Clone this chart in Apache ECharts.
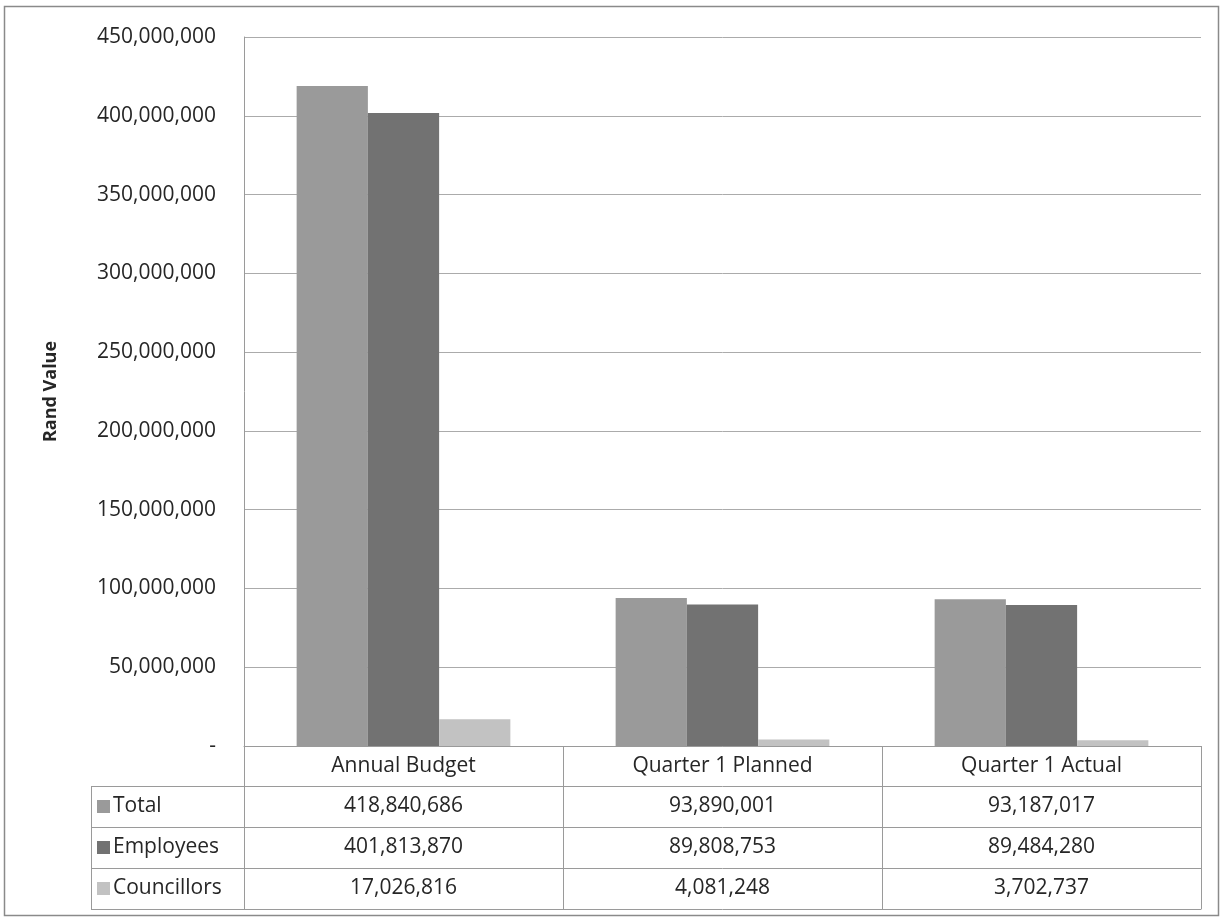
<!DOCTYPE html>
<html>
<head>
<meta charset="utf-8">
<style>
  html, body { margin: 0; padding: 0; background: #fff; }
  #chart { width: 1223px; height: 920px; }
</style>
<script src="https://cdn.jsdelivr.net/npm/echarts@6/dist/echarts.min.js"></script>
</head>
<body>
<div id="chart"></div>
<script>
const categories = ['Annual Budget', 'Quarter 1 Planned', 'Quarter 1 Actual']
const seriesNames = ['Total', 'Employees', 'Councillors']
const totalValues = [418840686, 93890001, 93187017]
const employeeValues = [401813870, 89808753, 89484280]
const councillorValues = [17026816, 4081248, 3702737]
const colors = ['#9a9a9a', '#727272', '#c2c2c2']

const fmt = v => v.toLocaleString('en-US')
const font = 'Open Sans'
const textColor = '#262626'
const lineColor = '#9a9a9a'
const fontSize = 21

// plot + table geometry
const gridLeft = 244
const gridRight = 1223 - 1201
const gridTop = 37
const zeroY = 746
const headerH = 40
const rowH = 41
const legendLeft = 91

const rows = [totalValues, employeeValues, councillorValues]

const chart = echarts.init(document.getElementById('chart'))

// one x axis per table row, stacked below the plot with offset
const rowAxes = rows.map((vals, i) => ({
  type: 'category',
  position: 'bottom',
  offset: headerH + i * rowH,
  data: vals.map(fmt),
  axisLine: { show: true, lineStyle: { color: lineColor } },
  axisTick: { show: true, interval: 0, length: rowH, lineStyle: { color: lineColor } },
  axisLabel: { interval: 0, margin: rowH / 2, verticalAlign: 'middle', color: textColor, fontFamily: font, fontSize: fontSize },
  splitLine: { show: false }
}))

let option = {
  backgroundColor: '#fff',
  animation: false,
  grid: {
    left: gridLeft,
    right: gridRight,
    top: gridTop,
    bottom: 920 - zeroY,
    show: false
  },
  legend: {
    orient: 'vertical',
    left: legendLeft + 6,
    top: zeroY + headerH + rowH / 2 - 13,
    icon: 'rect',
    itemWidth: 13,
    itemHeight: 13,
    itemGap: rowH - 26,
    padding: 0,
    data: seriesNames,
    textStyle: { color: textColor, fontFamily: font, fontSize: fontSize, lineHeight: 21, padding: [5, 0, 0, -2] },
    selectedMode: false
  },
  xAxis: [
    {
      type: 'category',
      position: 'bottom',
      data: categories,
      axisLine: { show: true, lineStyle: { color: lineColor } },
      axisTick: { show: true, interval: 0, length: headerH, lineStyle: { color: lineColor } },
      axisLabel: { interval: 0, margin: headerH / 2, verticalAlign: 'middle', color: textColor, fontFamily: font, fontSize: fontSize }
    },
    ...rowAxes,
    {
      type: 'category',
      position: 'bottom',
      offset: headerH + rows.length * rowH,
      data: categories,
      axisLine: { show: true, lineStyle: { color: lineColor } },
      axisTick: { show: false },
      axisLabel: { show: false }
    }
  ],
  yAxis: {
    type: 'value',
    min: 0,
    max: 450000000,
    interval: 50000000,
    name: 'Rand Value',
    nameLocation: 'middle',
    nameGap: 184,
    nameTextStyle: { color: textColor, fontFamily: font, fontSize: 18, fontWeight: 'bold' },
    axisLine: { show: true, lineStyle: { color: lineColor } },
    axisTick: { show: false },
    axisLabel: {
      margin: 28,
      color: textColor,
      fontFamily: font,
      fontSize: fontSize,
      formatter: v => v === 0 ? '-' : fmt(v)
    },
    splitLine: { lineStyle: { color: '#ababab', width: 1 } }
  },
  series: [totalValues, employeeValues, councillorValues].map((vals, i) => ({
    name: seriesNames[i],
    type: 'bar',
    xAxisIndex: 0,
    data: vals,
    barGap: '0%',
    barCategoryGap: '33%',
    itemStyle: { color: colors[i] }
  })),
  graphic: [
    // outer frame
    { type: 'rect', shape: { x: 4.5, y: 6.5, width: 1214, height: 909 }, style: { fill: null, stroke: '#8a8a8a', lineWidth: 1.5 }, silent: true },
    // legend column lines of the data table
    ...[0, 1, 2, 3].map(i => ({
      type: 'line',
      shape: { x1: legendLeft, y1: zeroY + headerH + i * rowH + 0.5, x2: gridLeft, y2: zeroY + headerH + i * rowH + 0.5 },
      style: { stroke: lineColor, lineWidth: 1 }, silent: true
    })),
    {
      type: 'line',
      shape: { x1: legendLeft + 0.5, y1: zeroY + headerH, x2: legendLeft + 0.5, y2: zeroY + headerH + 3 * rowH },
      style: { stroke: lineColor, lineWidth: 1 }, silent: true
    }
  ]
}

chart.setOption(option)
</script>
</body>
</html>
